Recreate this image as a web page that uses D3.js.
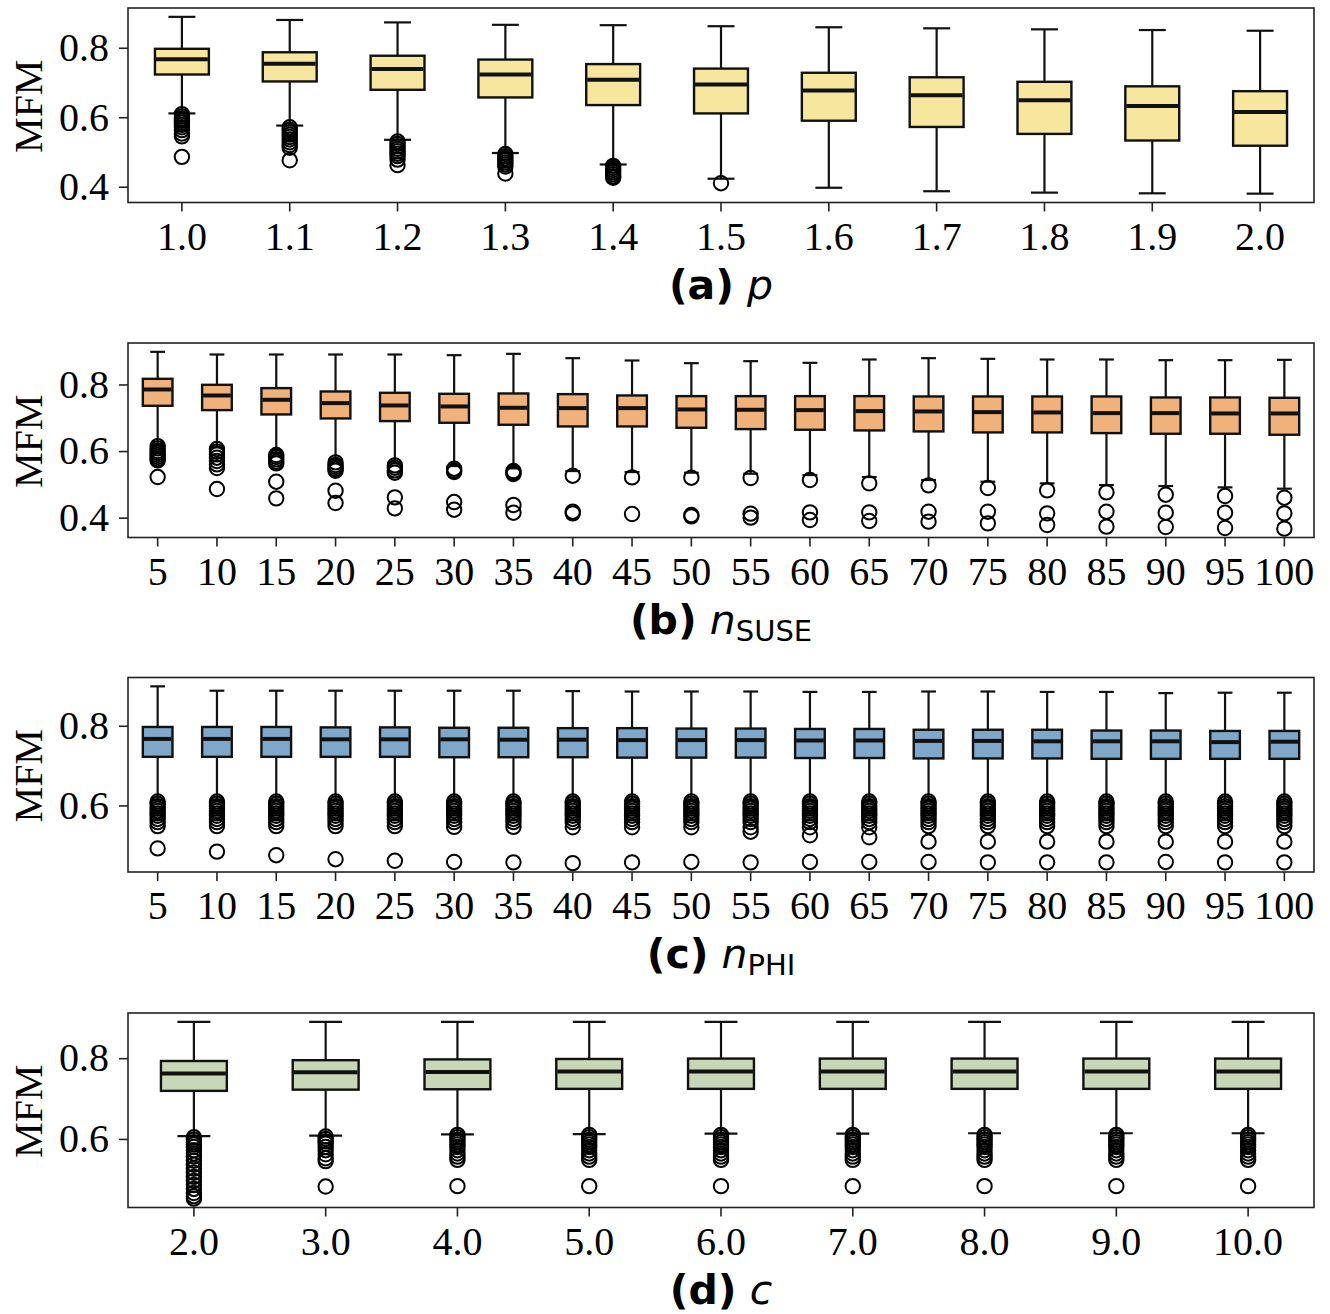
<!DOCTYPE html>
<html><head><meta charset="utf-8">
<script src="https://cdn.jsdelivr.net/npm/d3@7"></script>
<style>body{margin:0;background:#fff}</style>
</head><body><svg id="c" width="1330" height="1314"></svg>
<script>
const yTickValues = [0.4, 0.6, 0.8];

// (a) p
const aCats = ["1.0","1.1","1.2","1.3","1.4","1.5","1.6","1.7","1.8","1.9","2.0"];
const aHi  = [0.889,0.880,0.873,0.866,0.865,0.862,0.859,0.856,0.853,0.851,0.849];
const aQ3  = [0.797,0.787,0.777,0.766,0.753,0.740,0.728,0.715,0.702,0.689,0.675];
const aMed = [0.767,0.754,0.739,0.723,0.708,0.694,0.677,0.663,0.649,0.632,0.615];
const aQ1  = [0.723,0.703,0.679,0.657,0.635,0.611,0.590,0.572,0.552,0.533,0.518];
const aLo  = [0.611,0.576,0.535,0.497,0.464,0.423,0.397,0.387,0.383,0.381,0.380];
const aOut = [
  [0.609,0.602,0.596,0.590,0.584,0.578,0.571,0.563,0.553,0.545,0.486],
  [0.571,0.564,0.557,0.550,0.543,0.536,0.528,0.520,0.512,0.476],
  [0.530,0.523,0.516,0.509,0.502,0.495,0.488,0.478,0.462],
  [0.494,0.488,0.482,0.476,0.470,0.464,0.458,0.438],
  [0.460,0.454,0.448,0.442,0.436,0.430,0.426],
  [0.410],[],[],[],[],[]
];

// (b) n_SUSE
const bCats = ["5","10","15","20","25","30","35","40","45","50","55","60","65","70","75","80","85","90","95","100"];
const bHi  = [0.898,0.890,0.890,0.890,0.890,0.888,0.892,0.879,0.872,0.864,0.870,0.865,0.875,0.879,0.877,0.875,0.875,0.873,0.873,0.874];
const bQ3  = [0.817,0.799,0.789,0.779,0.775,0.772,0.773,0.771,0.767,0.765,0.765,0.765,0.765,0.764,0.764,0.764,0.764,0.761,0.761,0.760];
const bMed = [0.785,0.767,0.754,0.744,0.737,0.734,0.730,0.729,0.729,0.725,0.724,0.723,0.720,0.719,0.717,0.716,0.714,0.714,0.713,0.713];
const bQ1  = [0.736,0.723,0.710,0.698,0.690,0.685,0.679,0.674,0.674,0.670,0.666,0.664,0.662,0.659,0.656,0.656,0.654,0.652,0.652,0.649];
const bLo  = [0.620,0.612,0.595,0.575,0.565,0.555,0.548,0.540,0.537,0.535,0.532,0.528,0.522,0.513,0.508,0.503,0.498,0.495,0.491,0.487];
const bOut = [
  [0.615,0.608,0.600,0.594,0.588,0.582,0.576,0.572,0.522],
  [0.606,0.598,0.590,0.580,0.570,0.560,0.549,0.486],
  [0.588,0.582,0.575,0.568,0.563,0.508,0.458],
  [0.566,0.558,0.552,0.546,0.541,0.481,0.444],
  [0.557,0.550,0.542,0.535,0.461,0.428],
  [0.547,0.541,0.537,0.447,0.424],
  [0.540,0.535,0.531,0.438,0.415],
  [0.526,0.418,0.413],
  [0.521,0.411],
  [0.520,0.408,0.404],
  [0.519,0.412,0.400],
  [0.513,0.416,0.393],
  [0.503,0.416,0.390],
  [0.497,0.418,0.388],
  [0.489,0.418,0.383],
  [0.482,0.413,0.378],
  [0.476,0.418,0.373],
  [0.469,0.415,0.372],
  [0.465,0.415,0.369],
  [0.460,0.413,0.367]
];

// (c) n_PHI
const cCats = ["5","10","15","20","25","30","35","40","45","50","55","60","65","70","75","80","85","90","95","100"];
const cHi  = [0.899,0.888,0.888,0.888,0.888,0.888,0.888,0.887,0.886,0.886,0.886,0.885,0.885,0.886,0.886,0.885,0.885,0.882,0.883,0.883];
const cQ3  = [0.797,0.797,0.797,0.796,0.796,0.795,0.795,0.794,0.794,0.793,0.793,0.792,0.792,0.790,0.790,0.790,0.788,0.788,0.787,0.787];
const cMed = [0.767,0.767,0.767,0.766,0.766,0.766,0.765,0.765,0.764,0.764,0.764,0.763,0.763,0.762,0.762,0.761,0.761,0.761,0.759,0.760];
const cQ1  = [0.722,0.722,0.722,0.722,0.722,0.721,0.721,0.721,0.720,0.720,0.720,0.719,0.719,0.718,0.718,0.718,0.717,0.717,0.717,0.717];
const cLo  = [0.614,0.613,0.613,0.613,0.612,0.612,0.612,0.612,0.612,0.612,0.612,0.611,0.611,0.611,0.611,0.611,0.611,0.610,0.610,0.610];
const cOut = [
  [0.610,0.604,0.598,0.592,0.586,0.580,0.574,0.566,0.558,0.548,0.492],
  [0.610,0.604,0.598,0.592,0.586,0.580,0.574,0.566,0.558,0.548,0.484],
  [0.610,0.604,0.598,0.592,0.586,0.580,0.574,0.566,0.558,0.548,0.475],
  [0.610,0.604,0.598,0.592,0.586,0.580,0.574,0.566,0.558,0.548,0.465],
  [0.610,0.604,0.598,0.592,0.586,0.580,0.574,0.566,0.558,0.548,0.461],
  [0.610,0.604,0.598,0.592,0.586,0.580,0.574,0.566,0.558,0.546,0.458],
  [0.610,0.604,0.598,0.592,0.586,0.580,0.574,0.566,0.558,0.546,0.457],
  [0.610,0.604,0.598,0.592,0.586,0.580,0.574,0.566,0.558,0.545,0.455],
  [0.610,0.604,0.598,0.592,0.586,0.580,0.574,0.566,0.558,0.545,0.457],
  [0.610,0.604,0.598,0.592,0.586,0.580,0.574,0.566,0.558,0.545,0.458],
  [0.610,0.604,0.598,0.592,0.586,0.580,0.574,0.566,0.558,0.545,0.534,0.457],
  [0.610,0.604,0.598,0.592,0.586,0.580,0.574,0.566,0.558,0.545,0.525,0.458],
  [0.610,0.604,0.598,0.592,0.586,0.580,0.574,0.566,0.558,0.545,0.520,0.458],
  [0.610,0.604,0.598,0.592,0.586,0.580,0.574,0.566,0.558,0.548,0.509,0.458],
  [0.610,0.604,0.598,0.592,0.586,0.580,0.574,0.566,0.558,0.548,0.509,0.457],
  [0.610,0.604,0.598,0.592,0.586,0.580,0.574,0.566,0.558,0.548,0.509,0.457],
  [0.610,0.604,0.598,0.592,0.586,0.580,0.574,0.566,0.558,0.548,0.509,0.457],
  [0.610,0.604,0.598,0.592,0.586,0.580,0.574,0.566,0.558,0.548,0.509,0.458],
  [0.610,0.604,0.598,0.592,0.586,0.580,0.574,0.566,0.558,0.548,0.509,0.457],
  [0.610,0.604,0.598,0.592,0.586,0.580,0.574,0.566,0.558,0.548,0.509,0.457]
];

// (d) c
const dCats = ["2.0","3.0","4.0","5.0","6.0","7.0","8.0","9.0","10.0"];
const dHi  = [0.890,0.890,0.890,0.890,0.890,0.890,0.890,0.890,0.890];
const dQ3  = [0.793,0.795,0.797,0.798,0.799,0.799,0.799,0.799,0.799];
const dMed = [0.762,0.765,0.766,0.767,0.767,0.767,0.767,0.767,0.767];
const dQ1  = [0.719,0.722,0.723,0.724,0.724,0.724,0.724,0.724,0.724];
const dLo  = [0.607,0.608,0.611,0.612,0.613,0.613,0.614,0.614,0.614];
const dOut = [
  [0.604,0.598,0.592,0.586,0.580,0.572,0.564,0.556,0.546,0.536,0.526,0.516,0.506,0.496,0.486,0.476,0.466,0.458,0.452],
  [0.606,0.600,0.594,0.588,0.580,0.572,0.562,0.552,0.545,0.482],
  [0.610,0.604,0.598,0.592,0.586,0.580,0.572,0.564,0.556,0.548,0.483],
  [0.610,0.604,0.598,0.592,0.586,0.580,0.572,0.564,0.556,0.548,0.483],
  [0.610,0.604,0.598,0.592,0.586,0.580,0.572,0.564,0.556,0.548,0.483],
  [0.610,0.604,0.598,0.592,0.586,0.580,0.572,0.564,0.556,0.548,0.483],
  [0.610,0.604,0.598,0.592,0.586,0.580,0.572,0.564,0.556,0.548,0.483],
  [0.610,0.604,0.598,0.592,0.586,0.580,0.572,0.564,0.556,0.548,0.483],
  [0.610,0.604,0.598,0.592,0.586,0.580,0.572,0.564,0.556,0.548,0.483]
];

const panels = [
  {cats:aCats,hi:aHi,q3:aQ3,med:aMed,q1:aQ1,lo:aLo,out:aOut,tag:"(a)",sym:"p",sub:null,fill:"#f6e69e",top:8},
  {cats:bCats,hi:bHi,q3:bQ3,med:bMed,q1:bQ1,lo:bLo,out:bOut,tag:"(b)",sym:"n",sub:"SUSE",fill:"#f0b27a",top:343},
  {cats:cCats,hi:cHi,q3:cQ3,med:cMed,q1:cQ1,lo:cLo,out:cOut,tag:"(c)",sym:"n",sub:"PHI",fill:"#7ea7c9",top:677.5},
  {cats:dCats,hi:dHi,q3:dQ3,med:dMed,q1:dQ1,lo:dLo,out:dOut,tag:"(d)",sym:"c",sub:null,fill:"#c8d8b6",top:1013}
];

const svg = d3.select("#c");
const L = 128, R = 1314, H = 194.5;
const serif = "'Liberation Serif','Times New Roman',serif";
const sans = "'DejaVu Sans',sans-serif";

panels.forEach(p => {
  const g = svg.append("g");
  const x = d3.scaleBand().domain(p.cats).range([L, R]).padding(0);
  const all = [...p.hi, ...p.lo, ...p.out.flat()];
  const mn = d3.min(all), mx = d3.max(all), m = (mx - mn) * 0.05;
  const y = d3.scaleLinear().domain([mn - m, mx + m]).range([p.top + H, p.top]);
  const bw = x.bandwidth() * 0.5, cw = bw * 0.5;
  const [d0, d1] = y.domain();

  // axes
  const ya = g.append("g").attr("transform", `translate(${L},0)`)
    .call(d3.axisLeft(y).tickValues(yTickValues.filter(v => v >= d0 && v <= d1))
      .tickSize(9).tickPadding(10).tickFormat(d3.format(".1f")));
  const xa = g.append("g").attr("transform", `translate(0,${p.top + H})`)
    .call(d3.axisBottom(x).tickSize(9).tickPadding(10));
  [ya, xa].forEach(a => {
    a.select(".domain").remove();
    a.selectAll(".tick line").attr("stroke", "#222").attr("stroke-width", 1.6);
    a.selectAll(".tick text").attr("fill", "#000").style("font-family", serif).style("font-size", "40px");
  });

  // boxes
  p.cats.forEach((c, i) => {
    const cx = x(c) + x.bandwidth() / 2;
    g.append("rect").attr("x", cx - bw / 2).attr("y", y(p.q3[i]))
      .attr("width", bw).attr("height", y(p.q1[i]) - y(p.q3[i]))
      .attr("fill", p.fill).attr("stroke", "#111").attr("stroke-width", 2.4);
    const ln = (x1, y1, x2, y2, w) => g.append("line").attr("x1", x1).attr("y1", y1)
      .attr("x2", x2).attr("y2", y2).attr("stroke", "#111").attr("stroke-width", w);
    ln(cx, y(p.q3[i]), cx, y(p.hi[i]), 2.2);
    ln(cx, y(p.q1[i]), cx, y(p.lo[i]), 2.2);
    ln(cx - cw / 2, y(p.hi[i]), cx + cw / 2, y(p.hi[i]), 2.2);
    ln(cx - cw / 2, y(p.lo[i]), cx + cw / 2, y(p.lo[i]), 2.2);
    ln(cx - bw / 2 + 1, y(p.med[i]), cx + bw / 2 - 1, y(p.med[i]), 4);
    g.selectAll(null).data(p.out[i]).enter().append("circle")
      .attr("cx", cx).attr("cy", d => y(d)).attr("r", 7.2)
      .attr("fill", "none").attr("stroke", "#000").attr("stroke-width", 2);
  });

  // frame
  g.append("rect").attr("x", L).attr("y", p.top).attr("width", R - L).attr("height", H)
    .attr("fill", "none").attr("stroke", "#222").attr("stroke-width", 1.6);

  // y label
  g.append("text").attr("transform", `translate(42,${p.top + H / 2 + 1}) rotate(-90)`)
    .attr("text-anchor", "middle").style("font-family", serif).style("font-size", "40px")
    .attr("fill", "#000").text("MFM");

  // x label
  const t = g.append("text").attr("x", (L + R) / 2).attr("y", p.top + H + 96)
    .attr("text-anchor", "middle").style("font-family", sans).style("font-size", "41px").attr("fill", "#000");
  t.append("tspan").style("font-weight", "bold").text(p.tag);
  t.append("tspan").text("\u00a0");
  t.append("tspan").style("font-style", "italic").text(p.sym);
  if (p.sub) t.append("tspan").attr("dy", 7).style("font-size", "29px").text(p.sub);
});
</script>
</body></html>
